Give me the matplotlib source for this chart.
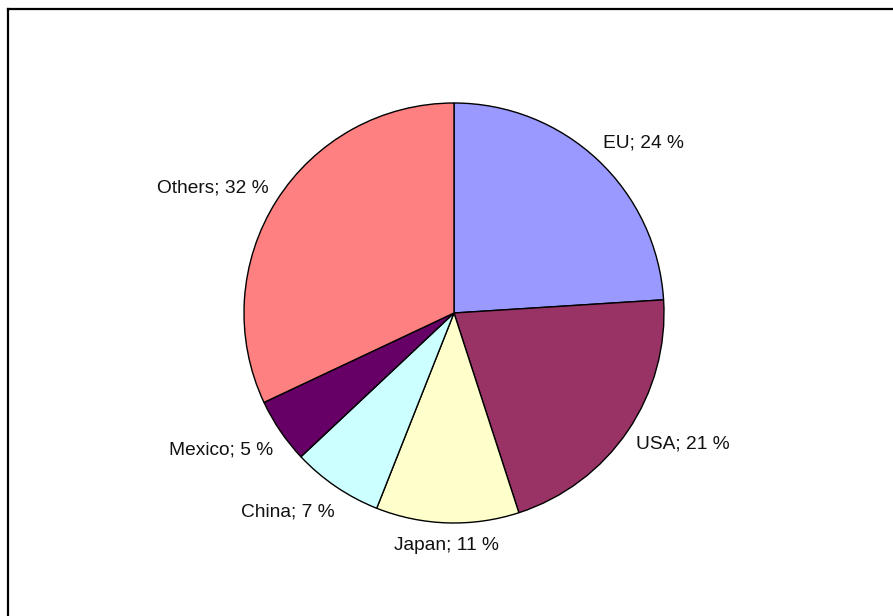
import matplotlib
matplotlib.use("Agg")
import matplotlib.pyplot as plt
from matplotlib.lines import Line2D

plt.rcParams['font.family'] = ['Liberation Sans', 'DejaVu Sans']

regions = ["EU", "USA", "Japan", "China", "Mexico", "Others"]
shares = [24, 21, 11, 7, 5, 32]
colors = ["#9999FF", "#993366", "#FFFFCC", "#CCFFFF", "#660066", "#FF8080"]

W, H = 893, 616
fig = plt.figure(figsize=(W / 100, H / 100), dpi=100)

# pie axes: centre (454, 313) px, radius 210 px
cx, cy, r = 454, 313, 210
ax = fig.add_axes([(cx - r) / W, (H - cy - r) / H, 2 * r / W, 2 * r / H])

labels = [f"{name}; {val} %" for name, val in zip(regions, shares)]
wedges, texts = ax.pie(shares, labels=labels, colors=colors, startangle=90,
                       counterclock=False, labeldistance=1.11,
                       wedgeprops=dict(edgecolor="black", linewidth=1.0),
                       textprops=dict(fontsize=13.8, color="#111111"))
# pull the side labels a little closer to the pie, centre the bottom one
for t in texts:
    x, y = t.get_position()
    if abs(x) < 0.15:
        t.set_ha("center")
        continue
    if x > 0:
        x -= 0.05
    else:
        x += 0.055
        if y < -0.4:
            y -= 0.03
    t.set_position((x, y))
ax.set_xlim(-1.0, 1.0)
ax.set_ylim(-1.0, 1.0)
ax.set_aspect("equal")
ax.axis("off")

# chart-area frame (top and left edges)
fig.add_artist(Line2D([7.5 / W, 1], [1 - 8.5 / H, 1 - 8.5 / H],
                      transform=fig.transFigure, color="black", lw=1.6))
fig.add_artist(Line2D([7.5 / W, 7.5 / W], [0, 1 - 8.5 / H],
                      transform=fig.transFigure, color="black", lw=1.6))

fig.savefig("out.png", dpi=100)
